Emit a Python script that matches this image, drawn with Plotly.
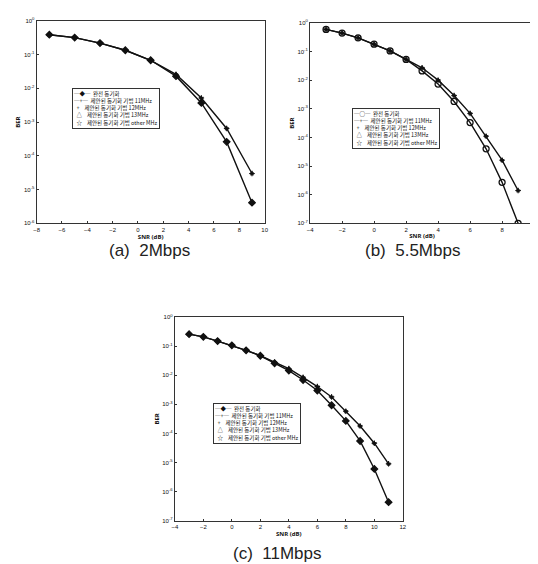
import plotly.graph_objects as go

# ---------------- data ----------------
snr_a = [-7, -5, -3, -1, 1, 3, 5, 7, 9]
ber_a_ideal = [0.39, 0.32, 0.22, 0.135, 0.068, 0.023, 0.0037, 2.6e-4, 4.1e-6]
ber_a_prop = [0.39, 0.32, 0.22, 0.135, 0.068, 0.026, 0.0052, 6.5e-4, 3.0e-5]

snr_b = [-3, -2, -1, 0, 1, 2, 3, 4, 5, 6, 7, 8, 9]
ber_b_ideal = [0.59, 0.44, 0.30, 0.18, 0.105, 0.053, 0.021, 0.0073, 1.8e-3, 3.3e-4, 4.0e-5, 2.7e-6, 1.0e-7]
ber_b_prop = [0.59, 0.44, 0.30, 0.18, 0.105, 0.053, 0.027, 0.010, 2.9e-3, 6.9e-4, 1.1e-4, 1.6e-5, 1.4e-6]

snr_c = [-3, -2, -1, 0, 1, 2, 3, 4, 5, 6, 7, 8, 9, 10, 11]
ber_c_ideal = [0.26, 0.21, 0.15, 0.107, 0.072, 0.047, 0.026, 0.0145, 6.9e-3, 3.0e-3, 9.3e-4, 2.7e-4, 5.5e-5, 6.0e-6, 4.3e-7]
ber_c_prop = [0.26, 0.21, 0.15, 0.107, 0.072, 0.047, 0.028, 0.017, 8.5e-3, 4.1e-3, 1.8e-3, 5.8e-4, 1.8e-4, 4.6e-5, 9.0e-6]

legend_names = ["완전 동기화", "제안된 동기화 기법 11MHz", "제안된 동기화 기법 12MHz",
                "제안된 동기화 기법 13MHz", "제안된 동기화 기법 other MHz"]
legend_keys = ["─◆─", "─+─", "  +  ", "  △  ", "  ☆  "]
titles = ["(a)  2Mbps", "(b)  5.5Mbps", "(c)  11Mbps"]

xticks_a = [-8, -6, -4, -2, 0, 2, 4, 6, 8, 10]
xticks_b = [-4, -2, 0, 2, 4, 6, 8, 10]
xticks_c = [-4, -2, 0, 2, 4, 6, 8, 10, 12]
yexp_a = [0, -1, -2, -3, -4, -5, -6]
yexp_b = [0, -1, -2, -3, -4, -5, -6, -7]
yexp_c = [0, -1, -2, -3, -4, -5, -6, -7]

# ---------------- figure ----------------
fig = go.Figure()
W, H = 538, 564

panels = [
    dict(x=snr_a, ideal=ber_a_ideal, prop=ber_a_prop, xt=xticks_a, ye=yexp_a,
         xdom=[26 / W, 257 / W], ydom=[1 - 214 / H, 1 - 9 / H], ax="",
         legpos=(62 / W, 1 - 77 / H), title_xy=(140 / W, 1 - 242 / H), key0="─◆─"),
    dict(x=snr_b, ideal=ber_b_ideal, prop=ber_b_prop, xt=xticks_b, ye=yexp_b,
         xdom=[303 / W, 530 / W], ydom=[1 - 214 / H, 1 - 11 / H], ax="2",
         legpos=(345 / W, 1 - 97 / H), title_xy=(407 / W, 1 - 242 / H), key0="─○─"),
    dict(x=snr_c, ideal=ber_c_ideal, prop=ber_c_prop, xt=xticks_c, ye=yexp_c,
         xdom=[166 / W, 397 / W], ydom=[1 - 515 / H, 1 - 309 / H], ax="3",
         legpos=(205 / W, 1 - 396 / H), title_xy=(270 / W, 1 - 548 / H), key0="─◆─"),
]

ideal_symbols = ["diamond", "circle-open", "diamond"]
ideal_sizes = [5, 6, 5]
other_symbols = ["cross-thin", "triangle-up-open", "star-open"]

for i, p in enumerate(panels):
    xa = "x" + p["ax"]
    ya = "y" + p["ax"]
    fig.add_trace(go.Scatter(
        x=p["x"], y=p["ideal"], name=legend_names[0], xaxis=xa, yaxis=ya,
        mode="lines+markers", line=dict(color="#111", width=1.4),
        marker=dict(symbol=ideal_symbols[i], size=ideal_sizes[i], color="#111",
                    line=dict(color="#111", width=1.3))))
    fig.add_trace(go.Scatter(
        x=p["x"], y=p["prop"], name=legend_names[1], xaxis=xa, yaxis=ya,
        mode="lines+markers", line=dict(color="#111", width=1.4),
        marker=dict(symbol="cross-thin", size=4, color="#111", line=dict(color="#111", width=1))))
    for k in range(3):
        fig.add_trace(go.Scatter(
            x=p["x"], y=p["prop"], name=legend_names[2 + k], xaxis=xa, yaxis=ya,
            mode="markers",
            marker=dict(symbol=other_symbols[k], size=3, color="#111", line=dict(color="#111", width=0.8))))

    axis_common = dict(showline=True, linecolor="#333", linewidth=1, mirror=True,
                       showgrid=False, zeroline=False, ticks="inside", ticklen=2,
                       tickcolor="#333", tickfont=dict(size=6, color="#111", family="Liberation Sans"))
    xkey = "xaxis" + p["ax"]
    ykey = "yaxis" + p["ax"]
    fig.layout[xkey] = dict(domain=p["xdom"], anchor=ya, range=[p["xt"][0], p["xt"][-1]],
                            tickvals=p["xt"],
                            title=dict(text="<b>SNR (dB)</b>", font=dict(size=6, color="#111"), standoff=2),
                            **axis_common)
    fig.layout[ykey] = dict(domain=p["ydom"], anchor=xa, type="log",
                            range=[p["ye"][-1], p["ye"][0]],
                            tickvals=[10 ** e for e in p["ye"]],
                            ticktext=["10<sup>%d</sup>" % e for e in p["ye"]],
                            title=dict(text="<b>BER</b>", font=dict(size=6, color="#111"), standoff=2),
                            **axis_common)
    keys = [p["key0"]] + legend_keys[1:]
    leg_text = "<br>".join("%s  %s" % (k, n) for k, n in zip(keys, legend_names))
    fig.add_annotation(text=leg_text, x=p["legpos"][0], y=p["legpos"][1], xref="paper", yref="paper",
                       xanchor="left", yanchor="top", align="left", showarrow=False,
                       bgcolor="white", bordercolor="#333", borderwidth=1, borderpad=1,
                       font=dict(size=5.5, color="#111", family="Noto Sans CJK KR"))
    fig.add_annotation(text=titles[i], x=p["title_xy"][0], y=p["title_xy"][1], xref="paper",
                       yref="paper", showarrow=False, xanchor="center", yanchor="middle",
                       font=dict(size=17, color="#222", family="Liberation Sans"))

fig.update_layout(width=W, height=H, margin=dict(l=0, r=0, t=0, b=0),
                  paper_bgcolor="white", plot_bgcolor="white", showlegend=False)

fig.write_html("out.html")
